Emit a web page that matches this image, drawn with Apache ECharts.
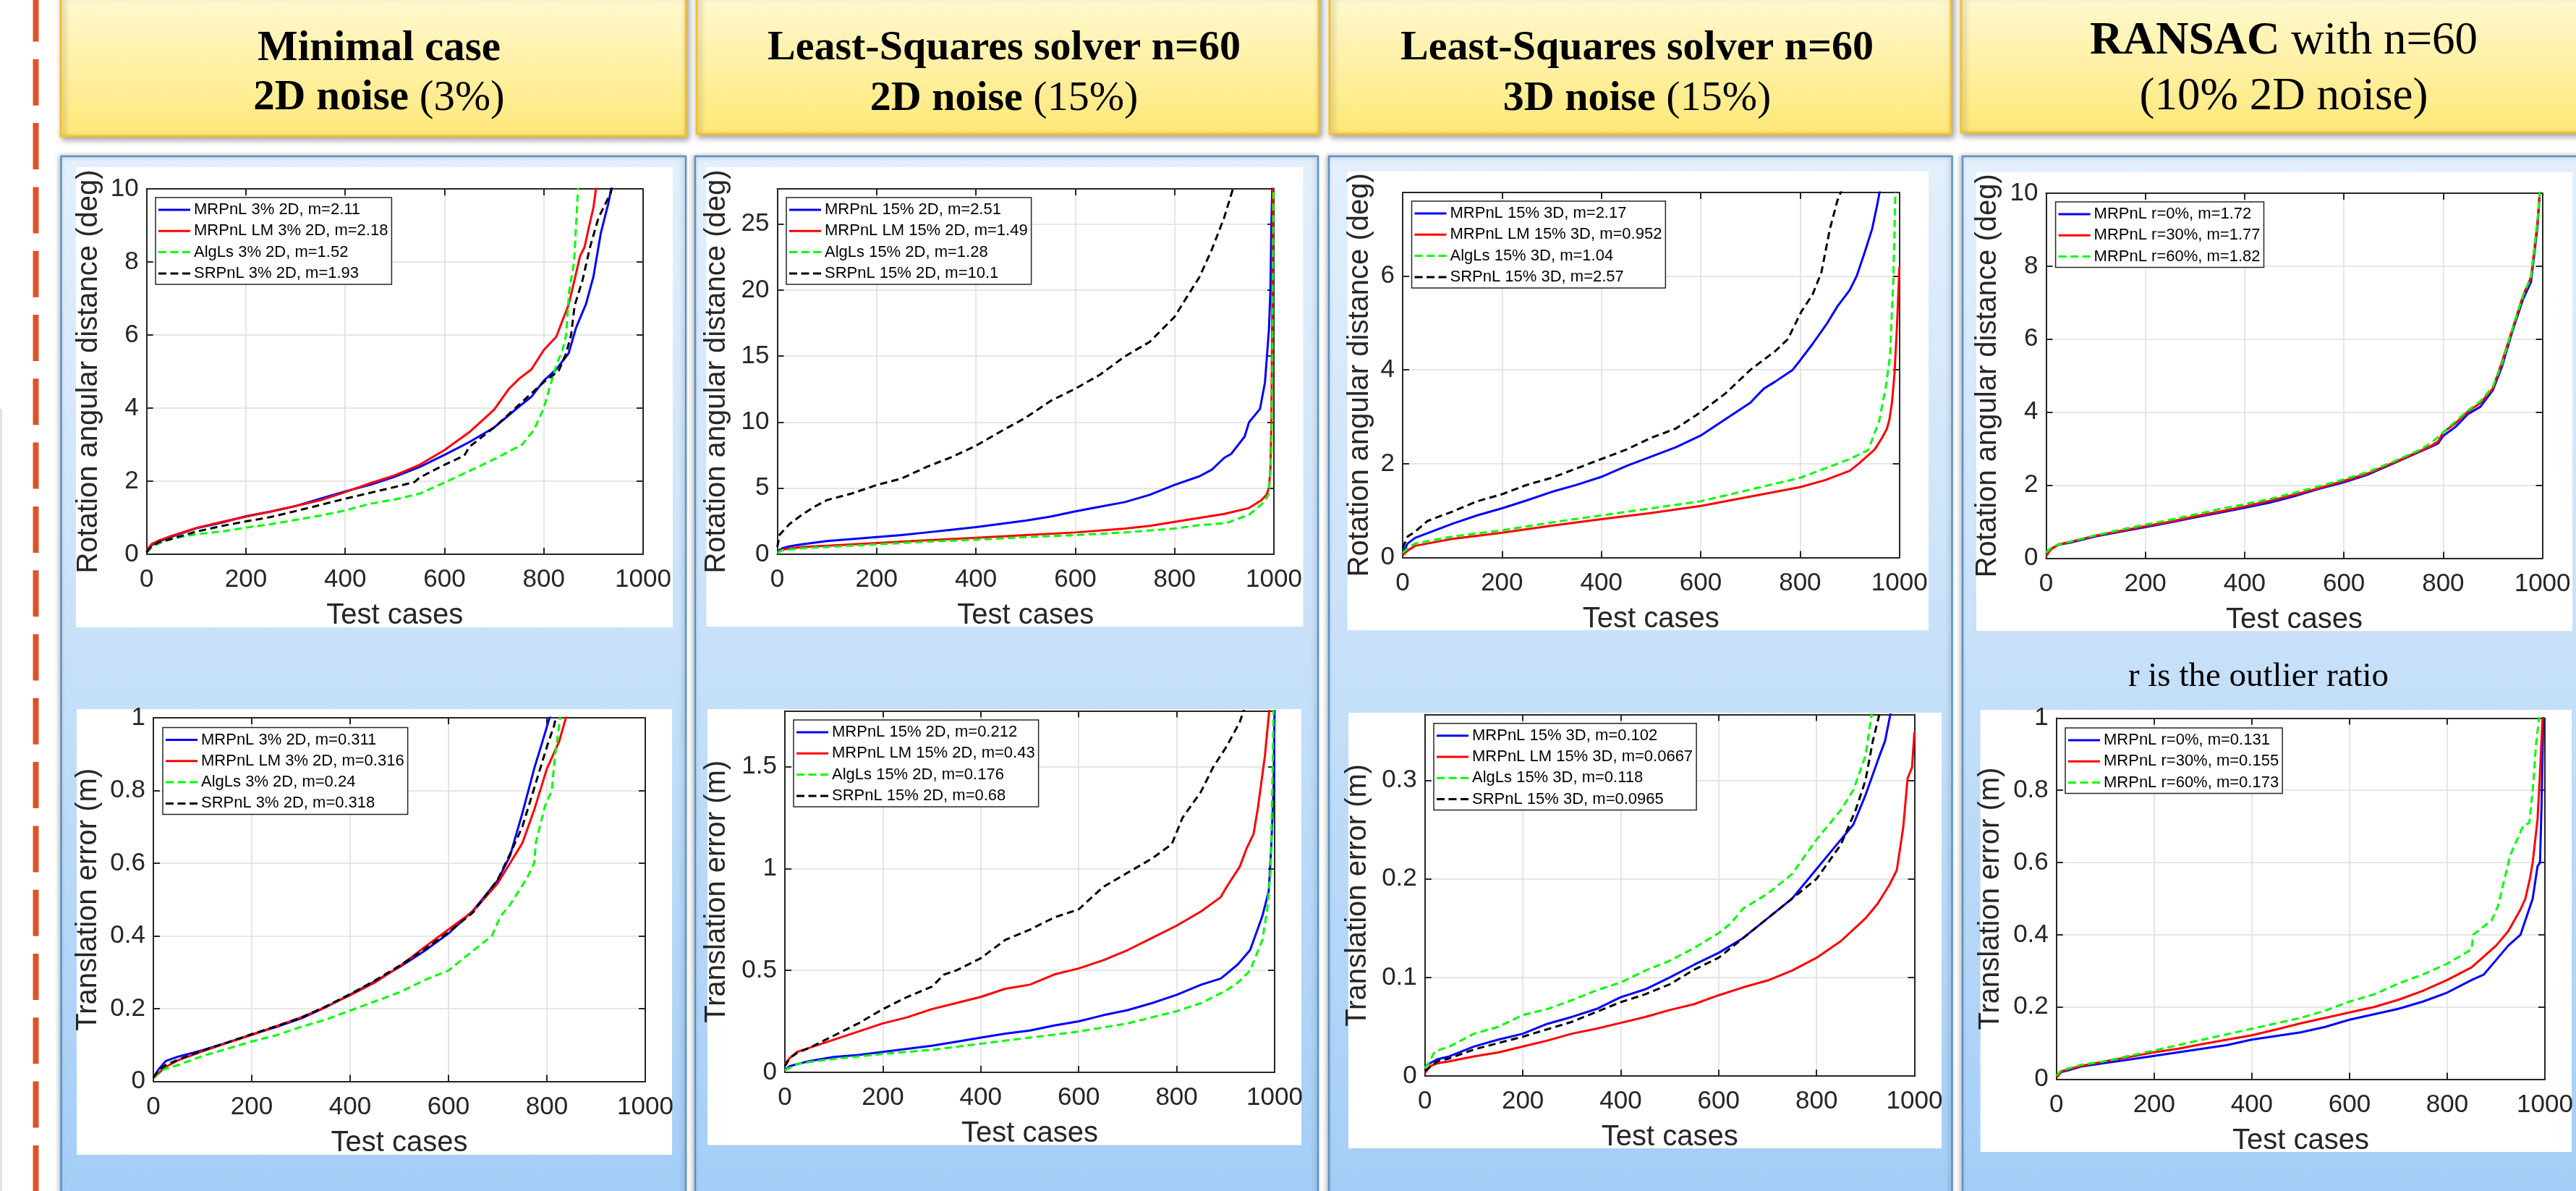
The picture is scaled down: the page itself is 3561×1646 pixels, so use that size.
<!DOCTYPE html>
<html><head><meta charset="utf-8">
<script src="https://cdn.jsdelivr.net/npm/echarts@6/dist/echarts.min.js"></script>
<style>html,body{margin:0;padding:0;background:#fff;overflow:hidden}#c{width:3561px;height:1646px}</style>
</head><body><div id="c"></div><script>
// ---------------- DATA ----------------
// x = test case index, y = error value
// Column 1 top: rotation, minimal case, 3% 2D noise
const r1_MRPnL   = [[0,0.05],[10,0.25],[25,0.35],[50,0.48],[100,0.71],[150,0.86],[200,1.04],[250,1.17],[300,1.32],[350,1.52],[400,1.72],[450,1.9],[500,2.12],[550,2.39],[600,2.72],[650,3.07],[700,3.47],[750,4.04],[775,4.31],[800,4.75],[825,5.06],[850,5.5],[865,6.2],[885,6.85],[900,7.6],[915,8.8],[930,9.6],[940,10.3]];
const r1_MRPnLLM = [[0,0.1],[10,0.28],[25,0.38],[50,0.5],[100,0.72],[150,0.88],[200,1.03],[250,1.17],[300,1.32],[350,1.48],[400,1.7],[450,1.94],[500,2.16],[550,2.45],[600,2.85],[650,3.34],[700,3.96],[730,4.53],[750,4.8],[775,5.06],[800,5.59],[825,5.95],[850,6.83],[864,7.63],[873,8.16],[882,8.4],[891,8.96],[900,9.49],[908,10.3]];
const r1_AlgLs   = [[0,0.05],[10,0.2],[25,0.3],[50,0.42],[100,0.55],[150,0.62],[200,0.73],[250,0.82],[300,0.94],[350,1.06],[400,1.2],[450,1.38],[500,1.5],[550,1.66],[606,2.0],[650,2.28],[700,2.6],[756,3.0],[780,3.4],[800,4.0],[811,4.53],[827,5.24],[838,5.6],[845,6.0],[851,7.2],[861,8.0],[865,9.0],[870,10.3]];
const r1_SRPnL   = [[0,0.05],[10,0.22],[25,0.33],[50,0.42],[100,0.62],[150,0.77],[200,0.9],[250,1.02],[300,1.18],[350,1.35],[400,1.52],[450,1.68],[500,1.84],[540,1.98],[550,2.1],[600,2.45],[640,2.7],[650,2.94],[700,3.47],[750,4.09],[800,4.71],[830,5.02],[845,5.5],[855,6.0],[862,6.8],[878,7.5],[893,8.4],[910,9.2],[935,9.9],[942,10.3]];
// Column 1 bottom: translation, minimal case, 3% 2D noise
const t1_MRPnL   = [[0,0.01],[10,0.032],[25,0.056],[50,0.068],[100,0.086],[150,0.107],[200,0.129],[250,0.15],[300,0.173],[350,0.204],[400,0.239],[450,0.275],[500,0.314],[550,0.358],[600,0.407],[650,0.47],[700,0.553],[725,0.62],[750,0.737],[775,0.864],[790,0.93],[812,1.03]];
const t1_MRPnLLM = [[0,0.01],[10,0.022],[25,0.04],[50,0.058],[100,0.083],[150,0.106],[200,0.128],[250,0.152],[300,0.176],[350,0.205],[400,0.237],[450,0.272],[500,0.316],[550,0.368],[600,0.418],[650,0.468],[700,0.545],[725,0.6],[750,0.655],[775,0.75],[800,0.86],[825,0.935],[845,1.03]];
const t1_AlgLs   = [[0,0.01],[10,0.025],[25,0.035],[50,0.045],[100,0.07],[150,0.09],[200,0.11],[250,0.127],[300,0.15],[350,0.17],[400,0.195],[450,0.22],[500,0.245],[550,0.278],[600,0.305],[650,0.36],[688,0.4],[706,0.455],[724,0.484],[760,0.56],[774,0.6],[778,0.66],[796,0.757],[810,0.8],[816,0.89],[830,1.03]];
const t1_SRPnL   = [[0,0.01],[10,0.03],[25,0.045],[50,0.06],[100,0.085],[150,0.107],[200,0.13],[250,0.152],[300,0.175],[350,0.206],[400,0.24],[450,0.277],[500,0.318],[550,0.362],[600,0.41],[650,0.465],[700,0.555],[725,0.625],[750,0.7],[775,0.81],[800,0.92],[815,0.98],[822,1.03]];
// Column 2 top: rotation, least squares, 15% 2D noise
const r2_MRPnL   = [[0,0.2],[10,0.45],[25,0.6],[50,0.75],[100,1.0],[150,1.15],[200,1.3],[250,1.45],[300,1.65],[350,1.85],[400,2.05],[450,2.3],[500,2.55],[550,2.85],[600,3.25],[650,3.6],[700,3.95],[750,4.5],[800,5.25],[850,5.9],[875,6.4],[900,7.3],[914,7.6],[941,8.9],[950,10.0],[972,11.0],[982,13.0],[987,15.5],[990,17.0],[993,20.0],[995,25.0],[997,28.2]];
const r2_MRPnLLM = [[0,0.15],[10,0.35],[50,0.55],[100,0.65],[200,0.85],[300,1.05],[400,1.25],[500,1.45],[600,1.65],[700,1.95],[750,2.15],[800,2.45],[850,2.75],[900,3.05],[950,3.5],[975,4.1],[985,4.5],[990,5.0],[993,6.5],[995,10.0],[997,20.0],[998,28.2]];
const r2_AlgLs   = [[0,0.1],[10,0.3],[50,0.45],[100,0.55],[200,0.75],[300,0.95],[400,1.1],[500,1.3],[600,1.45],[700,1.65],[800,1.95],[850,2.2],[905,2.37],[950,3.0],[981,3.97],[990,4.6],[995,8.0],[997,15.0],[999,28.2]];
const r2_SRPnL   = [[0,0.54],[5,1.5],[25,2.3],[50,3.0],[75,3.6],[100,4.1],[150,4.6],[200,5.24],[250,5.73],[300,6.6],[350,7.34],[400,8.22],[450,9.3],[500,10.33],[550,11.6],[600,12.53],[650,13.6],[700,14.98],[750,16.08],[800,17.97],[825,19.49],[850,20.98],[875,23.06],[900,25.5],[922,28.2]];
// Column 2 bottom: translation, least squares, 15% 2D noise
const t2_MRPnL   = [[0,0.01],[10,0.03],[25,0.04],[50,0.055],[100,0.075],[150,0.085],[200,0.1],[250,0.115],[300,0.13],[350,0.15],[400,0.17],[450,0.19],[500,0.205],[550,0.23],[600,0.25],[650,0.28],[700,0.305],[750,0.34],[800,0.38],[850,0.43],[890,0.46],[900,0.48],[925,0.53],[950,0.6],[975,0.767],[988,0.889],[993,1.1],[998,1.4],[1000,1.8]];
const t2_MRPnLLM = [[0,0.04],[10,0.07],[25,0.1],[50,0.12],[100,0.16],[150,0.2],[200,0.24],[250,0.27],[300,0.31],[350,0.34],[400,0.37],[450,0.41],[500,0.43],[550,0.48],[600,0.51],[650,0.55],[700,0.6],[750,0.66],[800,0.72],[850,0.79],[890,0.86],[902,0.91],[929,1.01],[943,1.1],[957,1.17],[966,1.3],[980,1.55],[990,1.8]];
const t2_AlgLs   = [[0,0.01],[25,0.04],[50,0.05],[100,0.065],[200,0.09],[300,0.11],[400,0.14],[500,0.17],[600,0.2],[700,0.24],[750,0.27],[800,0.3],[850,0.34],[900,0.4],[925,0.44],[950,0.5],[975,0.65],[985,0.8],[992,1.0],[996,1.5],[998,1.8]];
const t2_SRPnL   = [[0,0.03],[10,0.07],[25,0.095],[50,0.12],[100,0.18],[150,0.24],[200,0.31],[250,0.37],[300,0.42],[325,0.48],[350,0.5],[400,0.56],[450,0.65],[500,0.7],[550,0.76],[600,0.8],[650,0.91],[700,0.98],[750,1.05],[790,1.12],[812,1.25],[849,1.375],[875,1.5],[902,1.6],[929,1.72],[940,1.8]];
// Column 3 top: rotation, least squares, 15% 3D noise
const r3_MRPnL   = [[0,0.1],[10,0.3],[25,0.42],[50,0.52],[100,0.72],[150,0.9],[200,1.05],[250,1.22],[300,1.4],[350,1.55],[400,1.72],[450,1.95],[500,2.15],[550,2.35],[600,2.6],[650,2.95],[700,3.3],[727,3.6],[750,3.75],[785,4.0],[800,4.2],[825,4.55],[855,5.0],[875,5.35],[900,5.7],[914,6.0],[930,6.5],[945,7.0],[955,7.5],[962,7.9]];
const r3_MRPnLLM = [[0,0.05],[10,0.15],[25,0.25],[50,0.3],[100,0.4],[200,0.53],[300,0.68],[400,0.82],[500,0.95],[600,1.1],[700,1.3],[750,1.4],[800,1.5],[850,1.65],[900,1.85],[918,2.0],[950,2.3],[965,2.55],[975,2.75],[980,2.95],[985,3.3],[990,3.9],[995,4.9],[1000,6.2]];
const r3_AlgLs   = [[0,0.1],[10,0.2],[25,0.3],[50,0.35],[100,0.45],[200,0.58],[300,0.75],[400,0.9],[500,1.05],[600,1.2],[700,1.45],[800,1.7],[850,1.9],[900,2.1],[937,2.29],[959,2.9],[972,3.6],[981,4.29],[988,6.0],[992,7.9]];
const r3_SRPnL   = [[0,0.2],[10,0.45],[25,0.55],[50,0.78],[100,0.98],[150,1.2],[200,1.35],[250,1.55],[300,1.7],[350,1.9],[400,2.1],[450,2.3],[500,2.55],[550,2.75],[600,3.1],[650,3.5],[700,4.0],[750,4.4],[775,4.65],[803,5.25],[825,5.6],[843,6.08],[860,7.0],[875,7.6],[890,8.0]];
// Column 3 bottom: translation, least squares, 15% 3D noise
const t3_MRPnL   = [[0,0.01],[10,0.013],[25,0.017],[50,0.02],[100,0.03],[150,0.037],[200,0.043],[250,0.053],[300,0.06],[350,0.068],[400,0.08],[450,0.088],[500,0.1],[550,0.113],[600,0.125],[650,0.14],[700,0.16],[750,0.18],[800,0.21],[850,0.24],[875,0.255],[900,0.285],[925,0.32],[940,0.34],[954,0.375]];
const t3_MRPnLLM = [[0,0.003],[10,0.01],[25,0.013],[50,0.015],[100,0.02],[150,0.024],[200,0.03],[250,0.036],[300,0.043],[350,0.048],[400,0.054],[450,0.06],[500,0.067],[550,0.073],[600,0.082],[650,0.09],[700,0.097],[750,0.107],[800,0.12],[850,0.137],[900,0.16],[925,0.175],[950,0.195],[964,0.209],[977,0.252],[986,0.302],[995,0.313],[1000,0.349]];
const t3_AlgLs   = [[0,0.008],[10,0.015],[20,0.025],[50,0.03],[100,0.043],[150,0.05],[200,0.062],[250,0.068],[300,0.077],[350,0.087],[400,0.095],[450,0.107],[500,0.117],[550,0.13],[600,0.145],[625,0.155],[650,0.17],[700,0.185],[750,0.205],[800,0.24],[850,0.27],[875,0.29],[900,0.325],[915,0.375]];
const t3_SRPnL   = [[0,0.005],[25,0.015],[50,0.018],[100,0.027],[200,0.04],[300,0.055],[350,0.065],[400,0.075],[450,0.083],[500,0.093],[550,0.108],[600,0.12],[650,0.14],[700,0.16],[750,0.18],[800,0.2],[850,0.235],[880,0.27],[900,0.3],[915,0.34],[925,0.36],[932,0.375]];
// Column 4 top: rotation, RANSAC, outlier ratio r
const r4_r0  = [[0,0.1],[10,0.25],[25,0.37],[50,0.43],[100,0.6],[150,0.73],[200,0.85],[250,0.98],[300,1.12],[350,1.25],[400,1.38],[450,1.52],[500,1.7],[550,1.9],[600,2.08],[650,2.3],[700,2.6],[750,2.9],[775,3.05],[790,3.15],[800,3.35],[825,3.6],[850,3.95],[875,4.15],[900,4.6],[919,5.27],[940,6.24],[961,7.1],[977,7.57],[990,9.07],[995,10.1]];
const r4_r30 = [[0,0.05],[10,0.25],[25,0.38],[50,0.45],[100,0.62],[150,0.75],[200,0.88],[250,1.0],[300,1.15],[350,1.28],[400,1.42],[450,1.57],[500,1.74],[550,1.92],[600,2.12],[650,2.33],[700,2.62],[750,2.92],[775,3.07],[790,3.2],[800,3.45],[825,3.7],[850,4.02],[875,4.25],[900,4.65],[919,5.4],[940,6.3],[961,7.2],[977,7.7],[990,9.2],[995,10.1]];
const r4_r60 = [[0,0.15],[10,0.28],[25,0.38],[50,0.46],[100,0.63],[150,0.78],[200,0.92],[250,1.05],[300,1.2],[350,1.35],[400,1.48],[450,1.62],[500,1.79],[550,1.97],[600,2.16],[650,2.37],[700,2.65],[750,2.95],[775,3.15],[800,3.45],[825,3.75],[850,4.05],[875,4.3],[900,4.7],[919,5.35],[940,6.3],[961,7.2],[977,7.7],[990,9.2],[995,10.1]];
// Column 4 bottom: translation, RANSAC, outlier ratio r
const t4_r0  = [[0,0.005],[10,0.02],[25,0.025],[50,0.035],[100,0.045],[150,0.055],[200,0.065],[250,0.075],[300,0.085],[350,0.095],[400,0.11],[450,0.12],[500,0.13],[550,0.145],[600,0.165],[650,0.18],[700,0.195],[750,0.215],[800,0.24],[850,0.275],[875,0.29],[900,0.33],[925,0.37],[950,0.4],[960,0.44],[975,0.5],[985,0.59],[990,0.6],[993,0.75],[997,1.02]];
const t4_r30 = [[0,0.005],[10,0.022],[25,0.028],[50,0.037],[100,0.05],[150,0.062],[200,0.075],[250,0.085],[300,0.098],[350,0.11],[400,0.122],[450,0.138],[500,0.155],[550,0.17],[600,0.185],[650,0.2],[700,0.22],[750,0.245],[800,0.275],[850,0.31],[875,0.34],[900,0.37],[925,0.41],[950,0.47],[960,0.5],[970,0.56],[975,0.6],[980,0.66],[985,0.72],[990,0.85],[996,1.02]];
const t4_r60 = [[0,0.01],[10,0.025],[25,0.03],[50,0.04],[100,0.05],[150,0.065],[200,0.08],[250,0.095],[300,0.11],[350,0.125],[400,0.14],[450,0.155],[500,0.17],[550,0.19],[600,0.215],[650,0.235],[700,0.265],[750,0.29],[800,0.32],[850,0.36],[853,0.4],[891,0.44],[904,0.48],[929,0.62],[955,0.7],[968,0.71],[976,0.815],[982,0.93],[990,1.02]];

// legend labels
const names_r1 = ['MRPnL 3% 2D, m=2.11','MRPnL LM 3% 2D, m=2.18','AlgLs 3% 2D, m=1.52','SRPnL 3% 2D, m=1.93'];
const names_t1 = ['MRPnL 3% 2D, m=0.311','MRPnL LM 3% 2D, m=0.316','AlgLs 3% 2D, m=0.24','SRPnL 3% 2D, m=0.318'];
const names_r2 = ['MRPnL 15% 2D, m=2.51','MRPnL LM 15% 2D, m=1.49','AlgLs 15% 2D, m=1.28','SRPnL 15% 2D, m=10.1'];
const names_t2 = ['MRPnL 15% 2D, m=0.212','MRPnL LM 15% 2D, m=0.43','AlgLs 15% 2D, m=0.176','SRPnL 15% 2D, m=0.68'];
const names_r3 = ['MRPnL 15% 3D, m=2.17','MRPnL LM 15% 3D, m=0.952','AlgLs 15% 3D, m=1.04','SRPnL 15% 3D, m=2.57'];
const names_t3 = ['MRPnL 15% 3D, m=0.102','MRPnL LM 15% 3D, m=0.0667','AlgLs 15% 3D, m=0.118','SRPnL 15% 3D, m=0.0965'];
const names_r4 = ['MRPnL r=0%, m=1.72','MRPnL r=30%, m=1.77','MRPnL r=60%, m=1.82'];
const names_t4 = ['MRPnL r=0%, m=0.131','MRPnL r=30%, m=0.155','MRPnL r=60%, m=0.173'];

// axis ranges / ticks
const xRange = {min:0, max:1000, interval:200};
const yRanges = [[10,2],[1,0.2],[27.66,5],[1.774,0.5],[7.78,2],[0.3667,0.1],[10,2],[1,0.2]];
const xName = 'Test cases';
const yNameRot = 'Rotation angular distance (deg)';
const yNameTr = 'Translation error (m)';

// ---------------- STYLE / LAYOUT ----------------
const FONT = '"Liberation Sans", Arial, Helvetica, sans-serif';
const SERIF = '"Liberation Serif", "Times New Roman", serif';
const AX = '#262626', GRIDC = '#DEDEDE';
const C = {b:'#0000FF', r:'#FF0000', g:'#00FF00', k:'#000000'};
const solidIcon = 'path://M0,0H44V3H0Z';
const dashIcon = 'path://M0,0H11V3H0Z M16.5,0H27.5V3H16.5Z M33,0H44V3H33Z';
const plainNum = v => String(Math.round(v * 10000) / 10000);

const four = (d, n) => [[d[0],n[0],'b',false],[d[1],n[1],'r',false],[d[2],n[2],'g',true],[d[3],n[3],'k',true]];
const three = (d, n) => [[d[0],n[0],'b',false],[d[1],n[1],'r',false],[d[2],n[2],'g',true]];

const plots = [
  {box:[202.7,261,889,766],    yname:yNameRot, yGap:60, legend:[215,273],    white:[105,231,930,867],     lines:four([r1_MRPnL,r1_MRPnLLM,r1_AlgLs,r1_SRPnL], names_r1)},
  {box:[212,992,892,1494.6],   yname:yNameTr,  yGap:70, legend:[225,1005.5], white:[106,980,929,1596],    lines:four([t1_MRPnL,t1_MRPnLLM,t1_AlgLs,t1_SRPnL], names_t1)},
  {box:[1074.5,261,1761,766],  yname:yNameRot, yGap:64, legend:[1087,273],   white:[976.5,231,1801.5,866],lines:four([r2_MRPnL,r2_MRPnLLM,r2_AlgLs,r2_SRPnL], names_r2)},
  {box:[1085,982.6,1762,1481.9],yname:yNameTr, yGap:74, legend:[1097,995],   white:[978,980,1799,1582.5], lines:four([t2_MRPnL,t2_MRPnLLM,t2_AlgLs,t2_SRPnL], names_t2)},
  {box:[1939,266,2625.7,770.6],yname:yNameRot, yGap:39, legend:[1951.5,278], white:[1862.7,237,2666,871], lines:four([r3_MRPnL,r3_MRPnLLM,r3_AlgLs,r3_SRPnL], names_r3)},
  {box:[1969.8,987.5,2646.5,1487.2],yname:yNameTr,yGap:73,legend:[1982,999.7],white:[1864,985,2684,1587],  lines:four([t3_MRPnL,t3_MRPnLLM,t3_AlgLs,t3_SRPnL], names_t3)},
  {box:[2828.4,267,3514.6,771.5],yname:yNameRot,yGap:60, legend:[2841.6,279], white:[2732,238,3556,872],   lines:three([r4_r0,r4_r30,r4_r60], names_r4)},
  {box:[2842.8,992.4,3518,1491.6],yname:yNameTr,yGap:71, legend:[2855,1006],  white:[2737.6,981,3555,1592],lines:three([t4_r0,t4_r30,t4_r60], names_t4)}
];

const grids=[], xAxes=[], yAxes=[], series=[], legends=[], graphics=[];

// faint page-edge shadow at the far left
graphics.push({type:'line', z:-25, shape:{x1:1.5,y1:565,x2:1.5,y2:1646}, style:{stroke:'#D4D4D4', lineWidth:2}});
// panels
const panelX = [[84.5,948],[961,1822],[1837,2698.5],[2713,3570]];
panelX.forEach(([a,b])=>{
  graphics.push({type:'rect', z:-20, shape:{x:a,y:216,width:b-a,height:1450},
    style:{fill:new echarts.graphic.LinearGradient(0,0,0,1,[{offset:0,color:'#E3F0FC'},{offset:0.46,color:'#C8E1F9'},{offset:1,color:'#A3CDF7'}]),
      stroke:'#5A93C6', lineWidth:2.5, shadowBlur:6, shadowColor:'rgba(0,0,0,0.25)', shadowOffsetX:-2}});
});
// headers
const headX = [[84,948,188],[963,1823,185],[1838,2697,185],[2711,3570,183]];
headX.forEach(([a,b,bot])=>{
  graphics.push({type:'rect', z:-20, shape:{x:a,y:-10,width:b-a,height:bot+10},
    style:{fill:new echarts.graphic.LinearGradient(0,0,0,1,[{offset:0,color:'#FFF9D4'},{offset:1,color:'#FFE878'}]),
      stroke:'#F2C12E', lineWidth:3, shadowBlur:8, shadowColor:'rgba(0,0,0,0.35)', shadowOffsetY:4, shadowOffsetX:3}});
});
function htext(x, y, text, size, bold){
  return {type:'text', z:-10, x:x, y:y, style:{text:text, fontSize:size, fontFamily:SERIF, fontWeight:bold?'bold':'normal', fill:'#000',
    align:'center', textAlign:'center', verticalAlign:'middle', textVerticalAlign:'middle',
    rich:{r:{fontSize:size, fontFamily:SERIF, fontWeight:'normal', fill:'#000'}, b:{fontSize:size, fontFamily:SERIF, fontWeight:'bold', fill:'#000'}}}};
}
graphics.push(htext(524, 67.4, 'Minimal case', 59, true));
graphics.push(htext(524, 136, '2D noise {r|(3%)}', 59, true));
graphics.push(htext(1388, 67.4, 'Least-Squares solver n=60', 58, true));
graphics.push(htext(1388, 137, '2D noise {r|(15%)}', 58, true));
graphics.push(htext(2263, 67.4, 'Least-Squares solver n=60', 58, true));
graphics.push(htext(2263, 137, '3D noise {r|(15%)}', 58, true));
graphics.push(htext(3157, 57.7, '{b|RANSAC} with n=60', 63, false));
graphics.push(htext(3157, 134.7, '(10% 2D noise)', 63, false));
graphics.push(htext(3122, 936, 'r is the outlier ratio', 47, false));
// left dashed red line
graphics.push({type:'line', z:-10, shape:{x1:49.5,y1:-6.5,x2:49.5,y2:1700}, style:{stroke:'#DE5228', lineWidth:8, lineDash:[64,24.3]}});

plots.forEach((p,i)=>{
  const [L,T,R,B] = p.box;
  const [ymax, yint] = yRanges[i];
  const showMax = Math.abs(ymax/yint - Math.round(ymax/yint)) < 1e-6;
  const [wx0,wy0,wx1,wy1] = p.white;
  graphics.push({type:'rect', z:-15, shape:{x:wx0,y:wy0,width:wx1-wx0,height:wy1-wy0}, style:{fill:'#FFFFFF'}});
  grids.push({left:L, top:T, width:R-L, height:B-T, containLabel:false, outerBoundsMode:'none', show:false});
  const axLine = {show:true, onZero:false, lineStyle:{color:AX, width:2}};
  const axTick = {show:true, inside:true, length:9, lineStyle:{color:AX, width:2}};
  const lbl = {show:true, fontSize:35, color:AX, fontFamily:FONT, formatter:plainNum};
  const split = {show:true, lineStyle:{color:GRIDC, width:1.5}};
  xAxes.push({gridIndex:i, type:'value', position:'bottom', min:xRange.min, max:xRange.max, interval:xRange.interval,
    axisLine:axLine, axisTick:axTick, axisLabel:Object.assign({margin:18}, lbl), splitLine:split,
    name:xName, nameLocation:'middle', nameGap:65, nameTextStyle:{fontSize:40, color:AX, fontFamily:FONT}});
  xAxes.push({gridIndex:i, type:'value', position:'top', min:xRange.min, max:xRange.max, interval:xRange.interval,
    axisLine:axLine, axisTick:axTick, axisLabel:{show:false}, splitLine:{show:false}});
  yAxes.push({gridIndex:i, type:'value', position:'left', min:0, max:ymax, interval:yint,
    axisLine:axLine, axisTick:axTick, axisLabel:Object.assign({margin:11, showMaxLabel:showMax}, lbl), splitLine:split,
    name:p.yname, nameLocation:'middle', nameGap:p.yGap, nameTextStyle:{fontSize:40, color:AX, fontFamily:FONT}});
  yAxes.push({gridIndex:i, type:'value', position:'right', min:0, max:ymax, interval:yint,
    axisLine:axLine, axisTick:axTick, axisLabel:{show:false}, splitLine:{show:false}});
  p.lines.forEach(([data,name,col,dash])=>{
    series.push({type:'line', name:name, xAxisIndex:2*i, yAxisIndex:2*i, data:data, symbol:'none', showSymbol:false,
      clip:true, silent:true, animation:false, z:3,
      lineStyle:{color:C[col], width:3, type: dash ? [10,6] : 'solid'}, itemStyle:{color:C[col]}});
  });
  legends.push({orient:'vertical', left:p.legend[0], top:p.legend[1], itemWidth:44, itemHeight:22, itemGap:7.3,
    padding:[6,5,4,4], backgroundColor:'#FFFFFF', borderColor:'#262626', borderWidth:1.5, borderRadius:0,
    selectedMode:false, symbolKeepAspect:true, itemStyle:{borderWidth:0},
    textStyle:{fontSize:22, color:'#000', fontFamily:FONT, lineHeight:22},
    data:p.lines.map(l=>({name:l[1], icon: l[3] ? dashIcon : solidIcon}))});
});

const chart = echarts.init(document.getElementById('c'), null, {renderer:'canvas', width:3561, height:1646});
chart.setOption({
  animation:false, backgroundColor:'#FFFFFF',
  grid:grids, xAxis:xAxes, yAxis:yAxes, series:series, legend:legends, graphic:{elements:graphics}
});
</script></body></html>
